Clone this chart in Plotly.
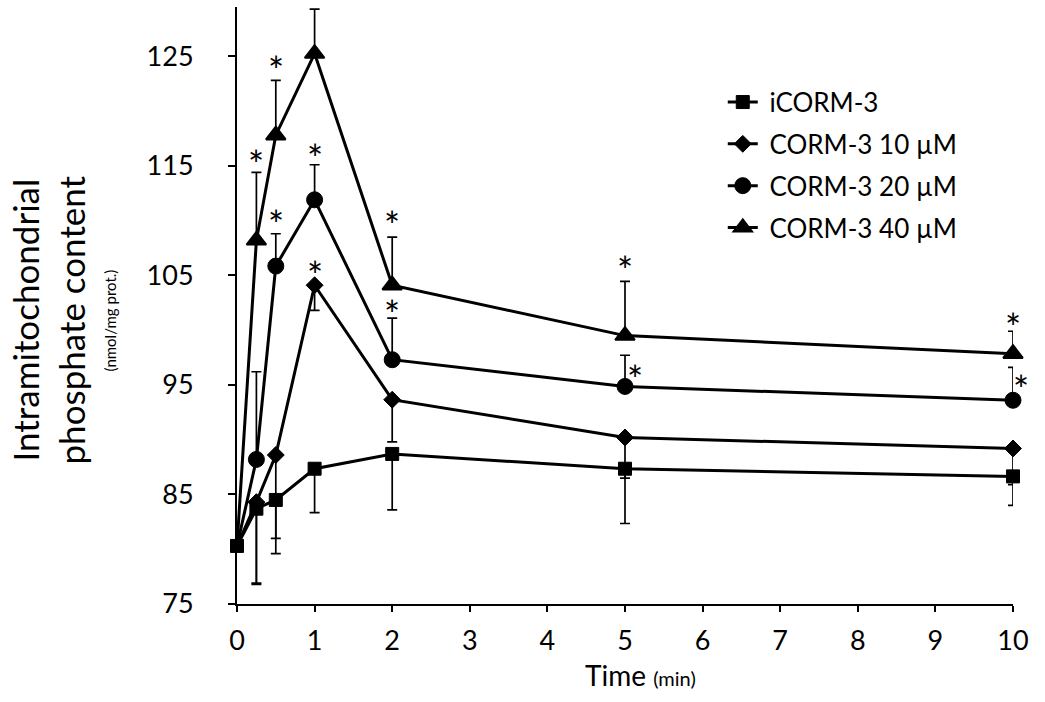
import plotly.graph_objects as go

# ---- data ----
time_min = [0, 0.25, 0.5, 1, 2, 5, 10]

icorm = [80.3, 83.7, 84.5, 87.35, 88.7, 87.35, 86.65]
icorm_err_minus = [0, 6.9, 4.9, 4.0, 5.1, 5.0, 2.65]

corm10 = [80.3, 84.3, 88.6, 104.1, 93.65, 90.2, 89.2]
corm10_err_minus = [0, 7.4, 7.6, 2.3, 3.85, 3.7, 3.3]

corm20 = [80.3, 88.2, 105.85, 111.9, 97.3, 94.86, 93.6]
corm20_err_plus = [0, 8.0, 2.95, 3.2, 3.8, 2.85, 3.0]

corm40 = [80.3, 108.2, 117.8, 125.25, 104.1, 99.5, 97.85]
corm40_err_plus = [0, 6.2, 5.0, 4.05, 4.4, 4.95, 2.05]

# significance stars (x in min, y in axis units)
star_x = [0.25, 0.5, 2, 5, 10, 0.5, 1, 2, 5, 10, 1]
star_y = [115.8, 124.4, 110.2, 106.1, 100.95, 110.3, 116.35, 102.1, 96.2, 95.25, 105.7]
star_dx = [0, 0, 0, 0, 0, 0, 0, 0, 10, 8, 0]

x_ticks = list(range(0, 11))
y_ticks = [75, 85, 95, 105, 115, 125]

FONT = "Lato"
NB = "\u00a0"

fig = go.Figure()

def add(name, y, plus, minus, symbol, size, lw, rank, hide_first):
    err = dict(type="data", symmetric=False,
               array=plus if plus is not None else [0] * len(y),
               arrayminus=minus if minus is not None else [0] * len(y),
               color="black", thickness=1.7, width=5)
    sizes = [size] * len(y)
    if hide_first:
        sizes[0] = 0
    fig.add_trace(go.Scatter(
        x=time_min, y=y, name=NB + name, mode="lines+markers",
        line=dict(color="black", width=3),
        marker=dict(symbol=symbol, size=sizes, color="black", opacity=1,
                    line=dict(color="black", width=lw)),
        error_y=err, showlegend=False, legendgroup=name, cliponaxis=False,
    ))
    # legend entry with a fixed-size marker
    fig.add_trace(go.Scatter(
        x=[None], y=[None], name=NB + name, mode="lines+markers",
        line=dict(color="black", width=3),
        marker=dict(symbol=symbol, size=size, color="black",
                    line=dict(color="black", width=lw)),
        legendrank=rank, legendgroup=name, showlegend=True,
    ))

add("CORM-3 40 µM", corm40, corm40_err_plus, None, "triangle-up", 17, 2, 4, True)
add("CORM-3 20 µM", corm20, corm20_err_plus, None, "circle", 16, 1, 3, True)
add("CORM-3 10 µM", corm10, None, corm10_err_minus, "diamond", 13, 1, 2, True)
add("iCORM-3", icorm, None, icorm_err_minus, "square", 13, 1, 1, False)

annotations = []
for sx, sy, dx in zip(star_x, star_y, star_dx):
    annotations.append(dict(x=sx, y=sy, xref="x", yref="y", text="*",
                            showarrow=False, xshift=dx, yshift=-7,
                            font=dict(family=FONT, size=38, color="black")))

# y-axis title lines
for txt, sz, cx in [("Intramitochondrial", 35, 24),
                    ("phosphate content", 35, 70),
                    ("(nmol/mg prot.)", 15, 109)]:
    annotations.append(dict(text=txt, textangle=-90, showarrow=False,
                            xref="paper", yref="paper", x=0, y=0.5,
                            xanchor="center", yanchor="middle",
                            xshift=cx - 237, yshift=-15,
                            font=dict(family=FONT, size=sz, color="black")))

annotations.append(dict(text="Time <span style='font-size:20px'>(min)</span>",
                        showarrow=False, xref="paper", yref="paper",
                        x=0.5, y=0, xanchor="center", yanchor="middle",
                        xshift=15, yshift=-71,
                        font=dict(family=FONT, size=28, color="black")))

fig.update_layout(
    width=1045, height=702,
    margin=dict(l=237, r=32, t=7, b=98),
    paper_bgcolor="white", plot_bgcolor="white",
    font=dict(family=FONT, color="black"),
    showlegend=True,
    legend=dict(x=0.626, y=0.88, xanchor="left", yanchor="top",
                font=dict(family=FONT, size=26, color="black"),
                bgcolor="rgba(0,0,0,0)", tracegroupgap=5,
                traceorder="grouped", itemwidth=30),
    annotations=annotations,
)

fig.update_xaxes(range=[0, 10], tickvals=x_ticks, showgrid=False, zeroline=False,
                 showline=True, linecolor="black", linewidth=2,
                 ticks="outside", ticklen=6, tickwidth=1.5, tickcolor="black",
                 tickfont=dict(family=FONT, size=27, color="black"),
                 ticklabelstandoff=6)
fig.update_yaxes(range=[75, 129.5], tickvals=y_ticks, showgrid=False, zeroline=False,
                 showline=True, linecolor="black", linewidth=2,
                 ticks="outside", ticklen=7, tickwidth=1.5, tickcolor="black",
                 tickfont=dict(family=FONT, size=27, color="black"),
                 ticklabelstandoff=29)

fig.write_html("out.html", config={"displayModeBar": False},
               post_script="document.body.style.margin='0';")
